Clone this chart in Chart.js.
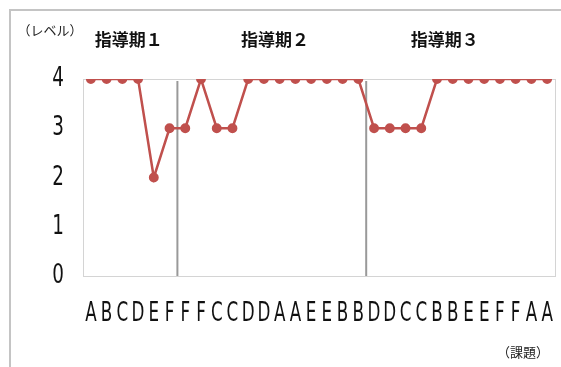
<!DOCTYPE html>
<html>
<head>
<meta charset="utf-8">
<script src="https://cdn.jsdelivr.net/npm/chart.js@4/dist/chart.umd.min.js"></script>
<style>
  html, body { margin: 0; padding: 0; background: #fff; }
  #wrap { width: 561px; height: 367px; position: relative; }
</style>
</head>
<body>
<div id="wrap"><canvas id="levelChart"></canvas></div>
<script>
// ---------------- data ----------------
const taskLabels = ['A','B','C','D','E','F','F','F','C','C','D','D','A','A','E','E','B','B','D','D','C','C','B','B','E','E','F','F','A','A'];
const levels = [4,4,4,4,2,3,3,4,3,3,4,4,4,4,4,4,4,4,3,3,3,3,4,4,4,4,4,4,4,4];
const yTicks = [0,1,2,3,4];
const periodNames = ['指導期１','指導期２','指導期３'];
const periodEnds = [5, 17]; // last task index of period 1 and 2
const unitY = '（レベル）';
const unitX = '（課題）';

const sans = "'DejaVu Sans', 'Noto Sans', sans-serif";
const jpFont = "'Noto Sans CJK JP', sans-serif";

// squeezed text, the original labels look condensed
function narrowText(ctx, text, x, y, size, squeeze) {
    ctx.save();
    ctx.translate(x, y);
    ctx.scale(squeeze, 1);
    ctx.font = size + 'px ' + sans;
    ctx.fillText(text, 0, 0);
    ctx.restore();
}

// frame, plot border, period separators and captions
const decoPlugin = {
    id: 'deco',
    beforeDraw(chart) {
        const ctx = chart.ctx;
        ctx.save();
        ctx.fillStyle = '#fff';
        ctx.fillRect(0, 0, chart.width, chart.height);
        ctx.strokeStyle = '#c4c4c4';
        ctx.lineWidth = 2;
        ctx.strokeRect(10, 10, 700, 500);
        ctx.restore();
    },
    beforeDatasetsDraw(chart) {
        const ctx = chart.ctx;
        const a = chart.chartArea;
        const x = chart.scales.x;
        const y = chart.scales.y;
        ctx.save();
        ctx.strokeStyle = '#d4d4d4';
        ctx.lineWidth = 1;
        ctx.strokeRect(a.left + 0.5, a.top + 0.5, a.right - a.left, a.bottom - a.top);

        ctx.strokeStyle = '#999';
        ctx.lineWidth = 2;
        periodEnds.forEach((idx) => {
            const px = (x.getPixelForValue(idx) + x.getPixelForValue(idx + 1)) / 2;
            ctx.beginPath();
            ctx.moveTo(px, a.top + 2);
            ctx.lineTo(px, a.bottom);
            ctx.stroke();
        });

        // tick labels
        ctx.fillStyle = '#111';
        ctx.textBaseline = 'middle';
        ctx.textAlign = 'center';
        taskLabels.forEach((lab, i) => {
            narrowText(ctx, lab, x.getPixelForValue(i), 314, 27, 0.62);
        });
        yTicks.forEach((v) => {
            narrowText(ctx, String(v), 58, y.getPixelForValue(v), 27, 0.68);
        });

        ctx.font = 'bold 17px ' + jpFont;
        const centers = [2.4, 11.7, 22.5];
        periodNames.forEach((name, i) => {
            const px = x.getPixelForValue(0) + centers[i] * (x.getPixelForValue(1) - x.getPixelForValue(0));
            ctx.fillText(name, px, 40);
        });

        ctx.font = '13px ' + jpFont;
        ctx.fillStyle = '#222';
        ctx.fillText(unitY, 50, 30);
        ctx.fillText(unitX, 523, 352);
        ctx.restore();
    }
};

new Chart(document.getElementById('levelChart'), {
    type: 'line',
    data: {
        labels: taskLabels,
        datasets: [{
            data: levels,
            borderColor: '#c0504d',
            backgroundColor: '#c0504d',
            borderWidth: 2.5,
            pointRadius: 3.7,
            pointHoverRadius: 3.7,
            tension: 0
        }]
    },
    options: {
        responsive: true,
        maintainAspectRatio: false,
        animation: false,
        layout: { autoPadding: false, padding: { top: 79, right: 6, left: 0, bottom: 0 } },
        plugins: { legend: { display: false }, tooltip: { enabled: false } },
        scales: {
            x: {
                offset: true,
                grid: { display: false },
                border: { display: false },
                ticks: { display: false, autoSkip: false, maxRotation: 0 },
                afterFit(scale) { scale.height = 91; }
            },
            y: {
                min: 0,
                max: 4,
                grid: { display: false },
                border: { display: false },
                ticks: { display: false, stepSize: 1 },
                afterFit(scale) { scale.width = 83; }
            }
        }
    },
    plugins: [decoPlugin]
});
</script>
</body>
</html>
